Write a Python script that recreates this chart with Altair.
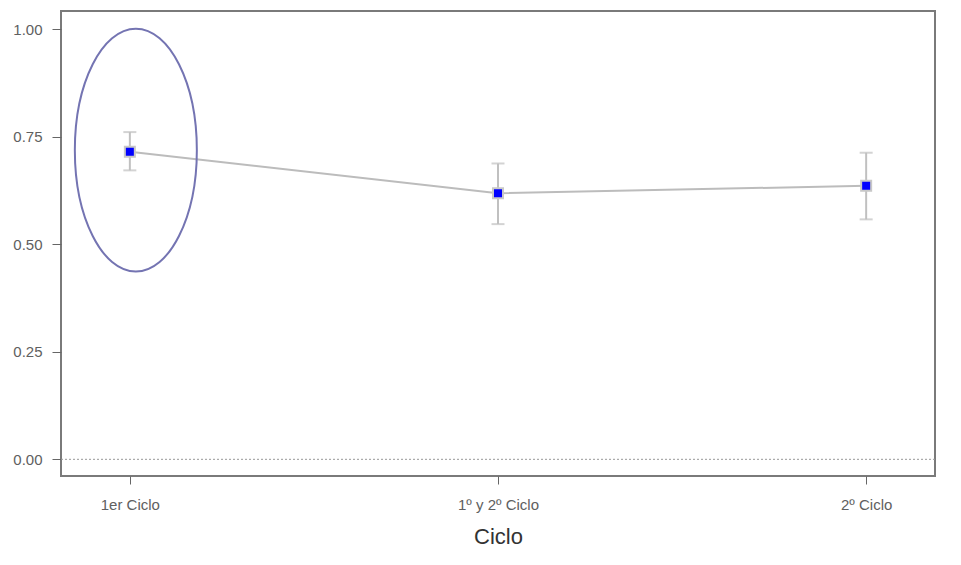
import altair as alt
import pandas as pd

cycles = ["1er Ciclo", "1º y 2º Ciclo", "2º Ciclo"]
means = [0.715, 0.619, 0.636]
lower = [0.672, 0.547, 0.558]
upper = [0.761, 0.688, 0.713]

# highlight annotation around the first cycle
highlight_cycle = ["1er Ciclo"]
highlight_y = [0.719]

df = pd.DataFrame({"Ciclo": cycles, "mean": means, "lo": lower, "hi": upper})
df_hl = pd.DataFrame({"Ciclo": highlight_cycle, "y": highlight_y})

FONT = "Liberation Sans"
ydom = [-0.0388, 1.0426]

x = alt.X(
    "Ciclo:N",
    sort=cycles,
    scale=alt.Scale(type="point", padding=0.187),
    axis=alt.Axis(
        title="Ciclo", labelAngle=0, domain=False, tickSize=8, tickColor="#666666",
        labelPadding=13, labelFontSize=15, labelColor="#606060", labelFont=FONT,
        titleFontSize=22, titleFont=FONT, titleFontWeight="normal", titleColor="#333333",
        titlePadding=14,
    ),
)
y_scale = alt.Scale(domain=ydom, nice=False, zero=False)
y_axis = alt.Axis(
    title=None, values=[0, 0.25, 0.5, 0.75, 1.0], format=".2f", domain=False, grid=False,
    tickSize=9, tickColor="#666666", labelPadding=10, labelFontSize=15,
    labelColor="#606060", labelFont=FONT,
)

base = alt.Chart(df)

zero = alt.Chart(pd.DataFrame({"z": [0]})).mark_rule(
    color="#999999", strokeDash=[2, 2], strokeWidth=1
).encode(y=alt.Y("z:Q", scale=y_scale, axis=y_axis))

line = base.mark_line(color="#bcbcbc", strokeWidth=2).encode(
    x=x, y=alt.Y("mean:Q", scale=y_scale, axis=y_axis)
)
err = base.mark_rule(color="#c0c0c0", strokeWidth=2).encode(
    x=x, y=alt.Y("lo:Q", scale=y_scale), y2="hi:Q"
)
cap_lo = base.mark_tick(color="#c0c0c0", thickness=2, size=13, orient="horizontal").encode(
    x=x, y=alt.Y("lo:Q", scale=y_scale)
)
cap_hi = base.mark_tick(color="#c0c0c0", thickness=2, size=13, orient="horizontal").encode(
    x=x, y=alt.Y("hi:Q", scale=y_scale)
)
pts = base.mark_square(
    size=100, color="#0000ff", opacity=1, stroke="#c8c8c8", strokeWidth=2
).encode(x=x, y=alt.Y("mean:Q", scale=y_scale))

ellipse = alt.Chart(df_hl).mark_point(
    shape="M -1 0 A 1 1.99 0 1 1 1 0 A 1 1.99 0 1 1 -1 0 Z",
    size=14884, filled=False, stroke="#7474b2", strokeWidth=2, opacity=1, xOffset=6,
).encode(x=alt.X("Ciclo:N", sort=cycles, scale=alt.Scale(type="point", padding=0.187)),
         y=alt.Y("y:Q", scale=y_scale))

chart = alt.layer(zero, line, err, cap_lo, cap_hi, pts, ellipse).properties(
    width=874, height=465,
    background="white",
    autosize=alt.AutoSizeParams(type="none"),
    padding={"left": 53, "top": 3, "right": 18, "bottom": 81},
).configure_view(stroke="#7a7a7a", strokeWidth=2)

chart.save("out.html", embed_options={"renderer": "svg", "actions": False})
